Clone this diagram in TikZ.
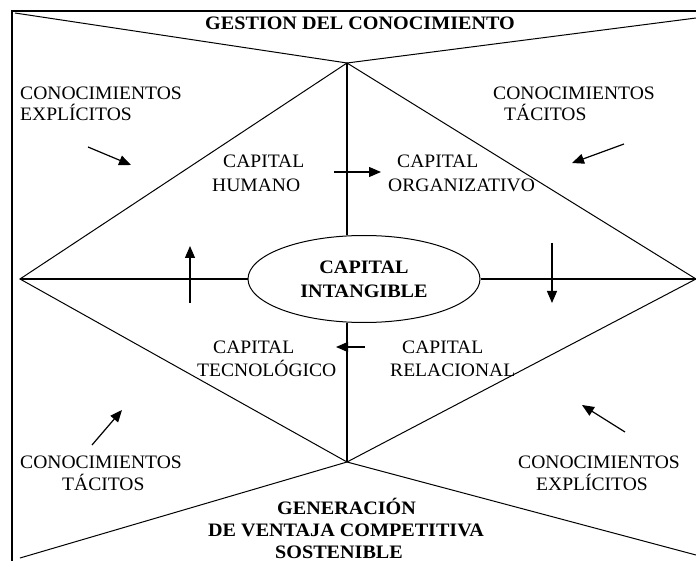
\documentclass[tikz,border=0pt]{standalone}
\usepackage{fontspec}
\setmainfont[FakeStretch=1.03]{Liberation Serif}
\newfontfamily\hbold[FakeStretch=1.06]{Liberation Serif}
\usetikzlibrary{shapes.geometric,arrows.meta}
\begin{document}
\begin{tikzpicture}[x=1pt,y=-1pt,
  frame/.style={line width=1.5pt},
  diag/.style={line width=1pt},
  axisline/.style={line width=1.4pt},
  flow/.style={line width=1.2pt,-{Triangle[length=12pt,width=10pt]}},
  lbl/.style={anchor=base west,inner sep=0pt,font=\fontsize{19}{19}\selectfont},
  blbl/.style={anchor=base west,inner sep=0pt,font=\fontsize{19}{19}\selectfont\hbold\bfseries},
  core/.style={ellipse,draw,line width=1pt,minimum width=232pt,minimum height=87pt,inner sep=0pt,align=center,font=\fontsize{19}{24}\selectfont\hbold\bfseries}
]
\useasboundingbox (0,0) rectangle (696,561);
% frame
\coordinate (fTL) at (12,11);
\coordinate (fTR) at (696,11);
\coordinate (fBL) at (12,561);
\draw[frame] (fTR) -- (fTL) -- (fBL);
% outer lines
\coordinate (oTL) at (15,13);
\coordinate (oTR) at (696,18);
\coordinate (oBL) at (20,558);
\coordinate (oBR) at (696,555);
% diamond
\coordinate (dT) at (347,63);
\coordinate (dL) at (20,279);
\coordinate (dR) at (696,279);
\coordinate (dB) at (347,462);
\draw[diag] (oTL) -- (dT) -- (oTR);
\draw[diag] (oBL) -- (dB) -- (oBR);
\draw[diag] (dL) -- (dT) -- (dR) -- (dB) -- cycle;
% core
\node[core] (ci) at (364,279) {CAPITAL\\INTANGIBLE};
\draw[axisline] (dT) -- (dT |- ci.north);
\draw[axisline] (dB) -- (dB |- ci.south);
\draw[axisline] (dL) -- (ci.west);
\draw[axisline] (ci.east) -- (dR);
% titles
\node[blbl] (t1) at (205,30) {GESTION DEL CONOCIMIENTO};
\node[blbl] (b1) at (277,514) {GENERACIÓN};
\node[blbl] (b2) at (208,536) {DE VENTAJA COMPETITIVA};
\node[blbl] (b3) at (275,558) {SOSTENIBLE};
% corner labels
\node[lbl] (tl1) at (20,99.5) {CONOCIMIENTOS};
\node[lbl] (tl2) at (20,120.5) {EXPLÍCITOS};
\node[lbl] (tr1) at (493,99.5) {CONOCIMIENTOS};
\node[lbl] (tr2) at (504,120.5) {TÁCITOS};
\node[lbl] (bl1) at (20,468) {CONOCIMIENTOS};
\node[lbl] (bl2) at (62,490) {TÁCITOS};
\node[lbl] (br1) at (518,468) {CONOCIMIENTOS};
\node[lbl] (br2) at (536,490) {EXPLÍCITOS};
% capital labels
\node[lbl] (h1) at (223,168) {CAPITAL};
\node[lbl] (h2) at (212,192) {HUMANO};
\node[lbl] (o1) at (397,168) {CAPITAL};
\node[lbl] (o2) at (388,192) {ORGANIZATIVO};
\node[lbl] (te1) at (213,353) {CAPITAL};
\node[lbl] (te2) at (197,376) {TECNOLÓGICO};
\node[lbl] (r1) at (402,353) {CAPITAL};
\node[lbl] (r2) at (390,376) {RELACIONAL};
% inner flow arrows
\coordinate (a1s) at (334,172); \coordinate (a1e) at (381,172);
\coordinate (a2s) at (552,243); \coordinate (a2e) at (552,303);
\coordinate (a3s) at (365,347); \coordinate (a3e) at (336,347);
\coordinate (a4s) at (190,303); \coordinate (a4e) at (190,246);
\draw[flow] (a1s) -- (a1e);
\draw[flow] (a2s) -- (a2e);
\draw[flow] (a3s) -- (a3e);
\draw[flow] (a4s) -- (a4e);
% corner arrows
\coordinate (c1s) at (88,147); \coordinate (c1e) at (131,165);
\coordinate (c2s) at (624,144); \coordinate (c2e) at (572,163);
\coordinate (c3s) at (92,445); \coordinate (c3e) at (122,410);
\coordinate (c4s) at (625,432); \coordinate (c4e) at (582,405);
\draw[flow] (c1s) -- (c1e);
\draw[flow] (c2s) -- (c2e);
\draw[flow] (c3s) -- (c3e);
\draw[flow] (c4s) -- (c4e);
\end{tikzpicture}
\end{document}
